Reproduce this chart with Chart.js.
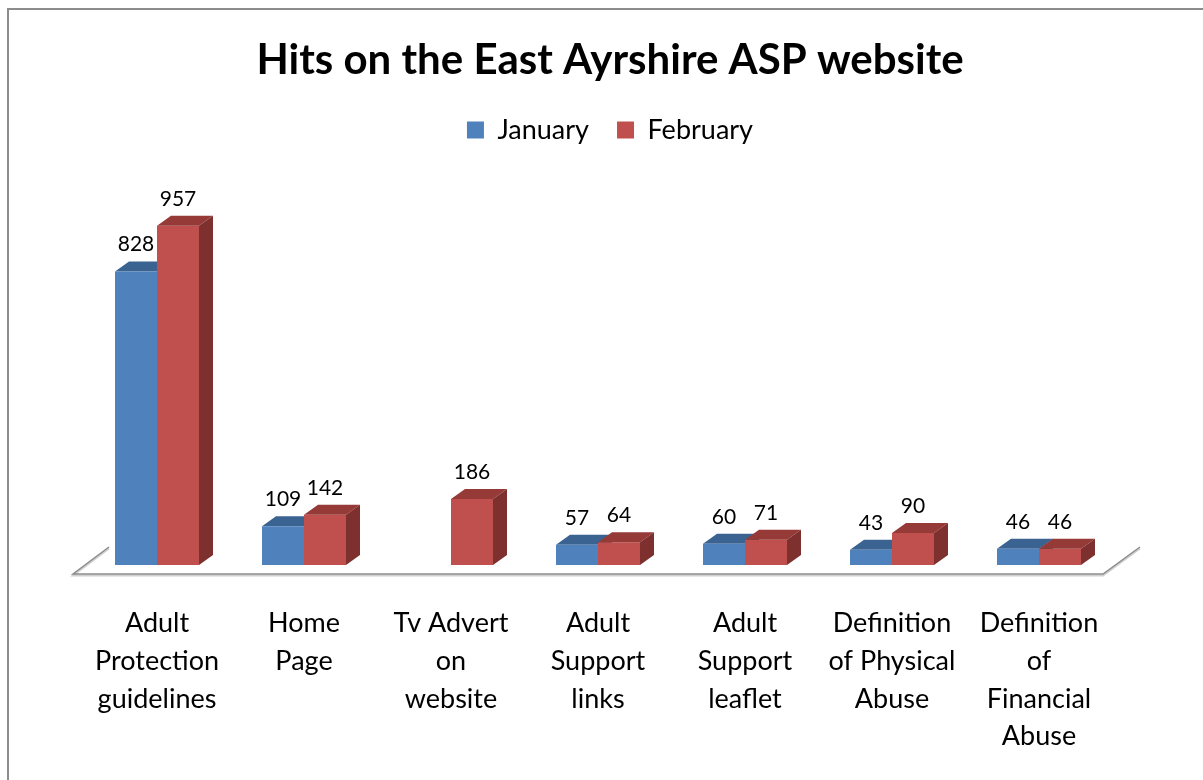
<!DOCTYPE html>
<html>
<head>
<meta charset="utf-8">
<title>Hits on the East Ayrshire ASP website</title>
<script src="https://cdn.jsdelivr.net/npm/chart.js@4/dist/chart.umd.min.js"></script>
<style>
    html, body { margin: 0; padding: 0; background: #fff; }
    body { width: 1203px; height: 780px; position: relative; overflow: hidden; }
    .frame {
        position: absolute; left: 7px; top: 8px; width: 1300px; height: 900px;
        border-left: 2px solid #8c8c8c; border-top: 2px solid #8c8c8c;
    }
    #wrap { position: absolute; left: 0; top: 0; width: 1203px; height: 780px; }
</style>
</head>
<body>
<div class="frame"></div>
<div id="wrap"><canvas id="hitsChart"></canvas></div>
<script>
// Chart data
const categories = [
    ['Adult', 'Protection', 'guidelines'],
    ['Home', 'Page'],
    ['Tv Advert', 'on', 'website'],
    ['Adult', 'Support', 'links'],
    ['Adult', 'Support', 'leaflet'],
    ['Definition', 'of Physical', 'Abuse'],
    ['Definition', 'of', 'Financial', 'Abuse']
];
const januaryHits = [828, 109, null, 57, 60, 43, 46];
const februaryHits = [957, 142, 186, 64, 71, 90, 46];

const FONT = 'Lato, "Open Sans", sans-serif';
const DEPTH_X = 14;
const DEPTH_Y = 10;

// Colours for the front, top and side of each bar
const faces = [
    { front: '#4F81BD', top: '#3B6392', side: '#2F5078' },
    { front: '#C0504D', top: '#953A37', side: '#7D302E' }
];

function drawTopAndSide(ctx, bar, c) {
    const p = bar.getProps(['x', 'y', 'base', 'width'], true);
    const l = p.x - p.width / 2;
    const r = p.x + p.width / 2;
    ctx.fillStyle = c.top;
    ctx.beginPath();
    ctx.moveTo(l, p.y);
    ctx.lineTo(l + DEPTH_X, p.y - DEPTH_Y);
    ctx.lineTo(r + DEPTH_X, p.y - DEPTH_Y);
    ctx.lineTo(r, p.y);
    ctx.closePath();
    ctx.fill();
    ctx.fillStyle = c.side;
    ctx.beginPath();
    ctx.moveTo(r, p.y);
    ctx.lineTo(r + DEPTH_X, p.y - DEPTH_Y);
    ctx.lineTo(r + DEPTH_X, p.base - DEPTH_Y);
    ctx.lineTo(r, p.base);
    ctx.closePath();
    ctx.fill();
}

function eachBar(chart, di, fn) {
    const values = chart.data.datasets[di].data;
    chart.getDatasetMeta(di).data.forEach((bar, i) => {
        if (values[i] === null || values[i] === undefined) return;
        fn(bar, values[i]);
    });
}

// Floor of the 3D plot: front edge plus the two slanted ends
const floorPlugin = {
    id: 'floor',
    beforeDatasetsDraw(chart) {
        const { ctx, chartArea } = chart;
        const y0 = chart.scales.y.getPixelForValue(0);
        const front = y0 + 9;
        const back = y0 - 18;
        const left = chartArea.left - 10.5;
        const right = chartArea.right - 9.5;
        ctx.save();
        ctx.strokeStyle = '#d0d0d0';
        ctx.lineWidth = 2;
        ctx.beginPath();
        ctx.moveTo(left + 36, back + 1.5);
        ctx.lineTo(left, front + 1.5);
        ctx.lineTo(right, front + 1.5);
        ctx.lineTo(right + 37, back + 1.5);
        ctx.stroke();
        ctx.strokeStyle = '#8c8c8c';
        ctx.lineWidth = 1.5;
        ctx.beginPath();
        ctx.moveTo(left + 36, back);
        ctx.lineTo(left, front);
        ctx.lineTo(right, front);
        ctx.lineTo(right + 37, back);
        ctx.stroke();
        // January depth faces go behind the February fronts
        eachBar(chart, 0, bar => drawTopAndSide(ctx, bar, faces[0]));
        ctx.restore();
    }
};

const bar3dPlugin = {
    id: 'bar3d',
    afterDatasetsDraw(chart) {
        const { ctx } = chart;
        ctx.save();
        eachBar(chart, 1, bar => drawTopAndSide(ctx, bar, faces[1]));
        ctx.font = '21px ' + FONT;
        ctx.fillStyle = '#000';
        ctx.textAlign = 'center';
        ctx.textBaseline = 'alphabetic';
        chart.data.datasets.forEach((ds, di) => {
            eachBar(chart, di, (bar, v) => ctx.fillText(String(v), bar.x, bar.y - 20));
        });
        ctx.restore();
    }
};

const chart = new Chart(document.getElementById('hitsChart'), {
    type: 'bar',
    data: {
        labels: categories,
        datasets: [
            { label: 'January', data: januaryHits, backgroundColor: faces[0].front },
            { label: 'February', data: februaryHits, backgroundColor: faces[1].front }
        ]
    },
    options: {
        responsive: true,
        maintainAspectRatio: false,
        animation: false,
        layout: {
            padding: { left: 83.5, right: 66.5, top: 0, bottom: 0 }
        },
        categoryPercentage: 0.5714,
        barPercentage: 1,
        plugins: {
            title: {
                display: true,
                text: 'Hits on the East Ayrshire ASP website',
                color: '#000',
                font: { family: FONT, size: 42, weight: 'bold', lineHeight: 1.2 },
                padding: { top: 35, bottom: 3 }
            },
            // empty spacer between legend and plot
            subtitle: {
                display: true,
                text: ' ',
                weight: 500,
                font: { size: 10, lineHeight: 1 },
                padding: { top: 0, bottom: 47 }
            },
            legend: {
                position: 'top',
                labels: {
                    color: '#000',
                    font: { family: FONT, size: 27 },
                    boxWidth: 17,
                    boxHeight: 17,
                    padding: 28
                }
            },
            tooltip: { enabled: false }
        },
        scales: {
            x: {
                grid: { display: false },
                border: { display: false },
                ticks: {
                    color: '#000',
                    font: { family: FONT, size: 27, lineHeight: 1.39 },
                    padding: 32,
                    maxRotation: 0,
                    autoSkip: false
                },
                afterFit: scale => { scale.height = 215; }
            },
            y: {
                position: 'right',
                min: 0,
                max: 1000,
                grid: { display: false },
                border: { display: false },
                ticks: { display: false },
                // blank strip keeps the plot off the right edge
                afterFit: scale => { scale.width = 24; }
            }
        }
    },
    plugins: [floorPlugin, bar3dPlugin]
});
</script>
</body>
</html>
